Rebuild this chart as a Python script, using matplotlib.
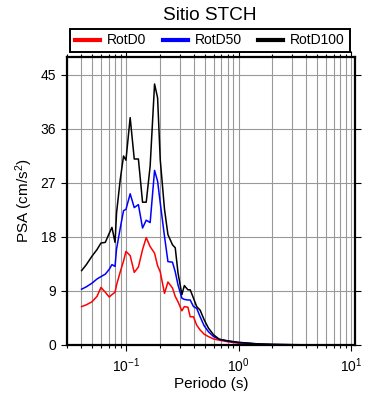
import numpy as np
import matplotlib
matplotlib.use('Agg')
import matplotlib.pyplot as plt
from matplotlib.ticker import LogLocator, FixedLocator, NullFormatter

plt.rcParams['font.family'] = ['Liberation Sans', 'DejaVu Sans']
plt.rcParams['mathtext.fontset'] = 'custom'
plt.rcParams['mathtext.rm'] = 'Liberation Sans'
plt.rcParams['mathtext.it'] = 'Liberation Sans:italic'

# periodo (s)
T = [0.0404, 0.0445, 0.0499, 0.0553, 0.060, 0.0655, 0.071, 0.0751, 0.080, 0.0825,
     0.089, 0.0952, 0.1, 0.109, 0.1185, 0.129, 0.1404, 0.1514, 0.164, 0.1795,
     0.191, 0.2016, 0.220, 0.236, 0.259, 0.274, 0.29, 0.314, 0.33, 0.355,
     0.372, 0.398, 0.425, 0.456, 0.495, 0.541, 0.60, 0.676, 0.8, 1.0,
     1.5, 2.0, 3.0, 5.0, 10.0]

rotd0 = [6.4, 6.7, 7.2, 8.1, 9.6, 8.8, 8.0, 8.4, 8.8, 10.0,
         12.2, 14.0, 15.6, 14.9, 12.1, 13.0, 15.9, 17.9, 16.4, 15.3,
         13.2, 12.2, 8.6, 10.5, 9.5, 8.1, 7.2, 5.7, 6.4, 6.3,
         4.7, 4.7, 3.3, 2.5, 1.8, 1.4, 1.0, 0.8, 0.55, 0.3,
         0.13, 0.07, 0.04, 0.02, 0.01]

rotd50 = [9.3, 9.7, 10.3, 11.0, 11.4, 11.8, 12.6, 13.4, 13.1, 16.0,
          19.5, 22.4, 22.6, 25.2, 22.9, 23.4, 19.5, 20.8, 20.4, 29.1,
          27.3, 23.7, 18.1, 13.9, 13.8, 12.2, 10.0, 7.8, 7.6, 7.5,
          7.5, 6.4, 6.1, 4.7, 3.2, 2.2, 1.4, 0.95, 0.65, 0.4,
          0.17, 0.09, 0.05, 0.02, 0.01]

rotd100 = [12.4, 13.4, 14.8, 15.9, 17.0, 17.1, 18.6, 19.6, 17.1, 22.0,
           27.6, 31.5, 30.8, 37.9, 31.0, 31.0, 23.8, 23.8, 29.8, 43.5,
           41.2, 30.9, 22.6, 18.4, 16.7, 16.2, 12.0, 8.4, 9.9, 9.2,
           9.2, 7.8, 6.4, 5.8, 4.2, 2.8, 1.7, 0.95, 0.7, 0.45,
           0.18, 0.1, 0.05, 0.02, 0.01]

fig = plt.figure(figsize=(3.9, 4.0), dpi=100)
ax = fig.add_axes([0.172, 0.1375, 0.738, 0.72])

ax.plot(T, rotd0, color='red', lw=1.1, label='RotD0')
ax.plot(T, rotd50, color='blue', lw=1.1, label='RotD50')
ax.plot(T, rotd100, color='black', lw=1.1, label='RotD100')

ax.set_xscale('log')
ax.set_xlim(0.03, 10.8)
ax.set_ylim(0, 48)
ax.yaxis.set_major_locator(FixedLocator([0, 9, 18, 27, 36, 45]))
ax.xaxis.set_major_locator(LogLocator(base=10))
ax.xaxis.set_minor_locator(LogLocator(base=10, subs=np.arange(2, 10)))
ax.xaxis.set_minor_formatter(NullFormatter())

ax.grid(True, which='both', axis='x', color='#999999', lw=0.8)
ax.grid(True, which='major', axis='y', color='#999999', lw=0.8)

ax.tick_params(which='both', direction='out', top=True, right=True, labelsize=10, width=0.8)
ax.tick_params(which='major', length=4.5)
ax.tick_params(which='minor', length=2.5)
for s in ax.spines.values():
    s.set_linewidth(1.6)

ax.set_xlabel('Periodo (s)', fontsize=11, labelpad=2)
ax.set_ylabel('PSA (cm/s$^2$)', fontsize=11, labelpad=4)
fig.text(0.538, 0.962, 'Sitio STCH', ha='center', va='center', fontsize=13.7)

leg = fig.legend(loc='center', bbox_to_anchor=(0.538, 0.899), ncol=3, fancybox=False,
                 edgecolor='black', framealpha=1, fontsize=10, handlelength=1.8,
                 columnspacing=1.2, handletextpad=0.5, borderpad=0.35)
leg.get_frame().set_linewidth(1.4)
for h in leg.legend_handles:
    h.set_linewidth(3)

fig.savefig('out.png', dpi=100)
